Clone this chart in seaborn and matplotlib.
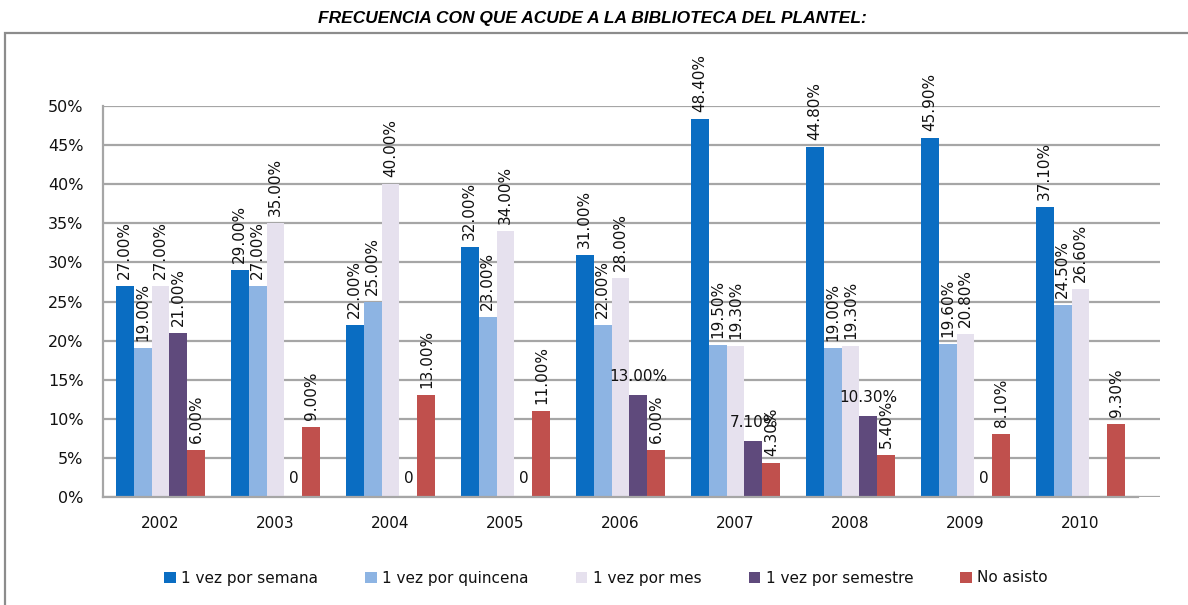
import numpy as np
import pandas as pd
import matplotlib
matplotlib.use("Agg")
import matplotlib.pyplot as plt
import seaborn as sns
from matplotlib.patches import Rectangle
from matplotlib.ticker import PercentFormatter, FixedLocator

# ---------------- data ----------------
years = ["2002", "2003", "2004", "2005", "2006", "2007", "2008", "2009", "2010"]
series = ["1 vez por semana", "1 vez por quincena", "1 vez por mes",
          "1 vez por semestre", "No asisto"]
semana = [27.0, 29.0, 22.0, 32.0, 31.0, 48.4, 44.8, 45.9, 37.1]
quincena = [19.0, 27.0, 25.0, 23.0, 22.0, 19.5, 19.0, 19.6, 24.5]
mes = [27.0, 35.0, 40.0, 34.0, 28.0, 19.3, 19.3, 20.8, 26.6]
semestre = [21.0, 0.0, 0.0, 0.0, 13.0, 7.1, 10.3, 0.0, np.nan]
no_asisto = [6.0, 9.0, 13.0, 11.0, 6.0, 4.3, 5.4, 8.1, 9.3]
y_ticks = [0, 5, 10, 15, 20, 25, 30, 35, 40, 45, 50]
title = "FRECUENCIA CON QUE ACUDE A LA BIBLIOTECA DEL PLANTEL:"

# styles
colors = ["#0A6DC2", "#8DB4E3", "#E6E1EE", "#5F4A7C", "#C0504D"]
horizontal_labels = {("2006", "1 vez por semestre"),
                     ("2007", "1 vez por semestre"),
                     ("2008", "1 vez por semestre")}

rows = []
for name, vals in zip(series, [semana, quincena, mes, semestre, no_asisto]):
    for yr, v in zip(years, vals):
        rows.append({"Año": yr, "Serie": name, "Valor": v})
df = pd.DataFrame(rows)

# ---------------- figure ----------------
sns.set_style("white")
plt.rcParams["font.family"] = ["DejaVu Sans"]
W, H = 1188, 605
fig = plt.figure(figsize=(W / 100, H / 100), dpi=100)

def fx(px):
    return px / W

def fy(py):
    return 1 - py / H

ax_left, ax_right = 103, 1160
ax_bottom, ax_top = 497, 106
ax = fig.add_axes([fx(ax_left), fy(ax_bottom), fx(ax_right - ax_left),
                   fy(ax_top) - fy(ax_bottom)])

sns.barplot(data=df, x="Año", y="Valor", hue="Serie", hue_order=series,
            order=years, palette=colors, saturation=1, width=0.78, ax=ax,
            edgecolor="none", linewidth=0, legend=True)

cat_px = 115.0
xmax = 8.5 + (ax_right - 1138) / cat_px
ax.set_xlim(-0.5, xmax)
ax.set_ylim(0, 50)

ax.set_yticks(y_ticks)
ax.yaxis.set_major_formatter(PercentFormatter(decimals=0))
ax.grid(axis="y", color="#A6A6A6", linewidth=1.6)
ax.set_axisbelow(True)

for s in ["top", "right"]:
    ax.spines[s].set_visible(False)
ax.spines["left"].set_color("#A6A6A6")
ax.spines["left"].set_linewidth(1.6)
ax.spines["bottom"].set_color("#A6A6A6")
ax.spines["bottom"].set_linewidth(1.6)
ax.spines["bottom"].set_bounds(-0.5, 8.5)

ax.tick_params(axis="y", labelsize=11.5, length=4, color="#A6A6A6", pad=10,
               labelcolor="#111111")
ax.tick_params(axis="x", which="major", labelsize=11, length=0, pad=14,
               labelcolor="#111111")
ax.xaxis.set_minor_locator(FixedLocator(np.arange(-0.5, 9.0, 1.0)))
ax.tick_params(axis="x", which="minor", length=5, color="#A6A6A6", width=1.4)
ax.set_xlabel("")
ax.set_ylabel("")

# data labels
for container, name in zip(ax.containers, series):
    for bar in container:
        h = bar.get_height()
        if h is None or np.isnan(h):
            continue
        x = bar.get_x() + bar.get_width() / 2
        yr = years[int(round(x))]
        txt = "0" if h == 0 else f"{h:.2f}%"
        if h == 0 or (yr, name) in horizontal_labels:
            ax.annotate(txt, (x, h), xytext=(0, 8), textcoords="offset points",
                        ha="center", va="bottom", fontsize=11, color="#111111")
        else:
            ax.annotate(txt, (x, h), xytext=(0, 5), textcoords="offset points",
                        ha="center", va="bottom", rotation=90, fontsize=11,
                        color="#111111")

# legend
handles, labels = ax.get_legend_handles_labels()
ax.legend_.remove()
leg = fig.legend(handles, labels, loc="center", bbox_to_anchor=(fx(606), fy(578)),
                 ncol=5, frameon=False, fontsize=11, handlelength=0.75,
                 handleheight=0.75, handletextpad=0.35, columnspacing=3.1)
for t in leg.get_texts():
    t.set_color("#111111")

# title
fig.text(fx(592), fy(18), title, ha="center", va="center", fontsize=12.5,
         fontweight="bold", fontstyle="italic", color="black",
         family=["Liberation Sans", "DejaVu Sans"])

# outer frame
fig.add_artist(Rectangle((fx(5), -0.02), 1.2, fy(33) + 0.02,
                         transform=fig.transFigure, fill=False,
                         edgecolor="#8C8C8C", linewidth=1.6))

fig.savefig("out.png", dpi=100)
